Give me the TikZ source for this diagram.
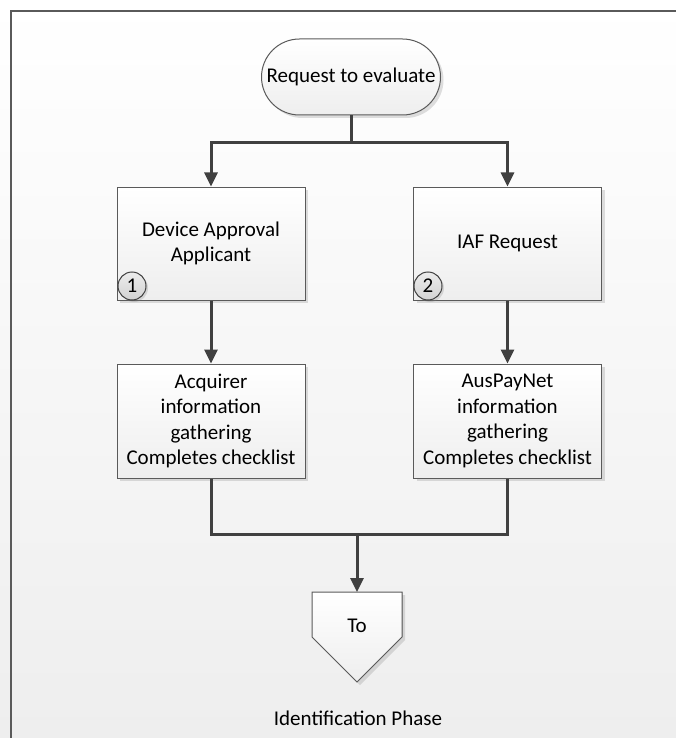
\documentclass[tikz,border=0pt]{standalone}
\usepackage{fontspec}
\setmainfont{Carlito}
\usetikzlibrary{arrows.meta,shadows,shapes.misc}
\definecolor{lineC}{HTML}{404040}
\definecolor{edgeC}{HTML}{5A5A5A}
\definecolor{bgC}{HTML}{EEEEEE}
\tikzset{
  flowbox/.style={draw=edgeC, line width=1pt, top color=white, bottom color=bgC,
    minimum width=188pt, align=center, inner sep=2pt,
    font=\fontsize{21}{25.5}\selectfont,
    drop shadow={shadow xshift=3pt, shadow yshift=-3pt, opacity=0.25, fill=gray}},
  numcirc/.style={circle, draw=lineC, line width=1pt, top color=white!85!gray, bottom color=gray!35,
    minimum size=28pt, inner sep=0pt, font=\fontsize{21}{22}\selectfont,
    drop shadow={shadow xshift=2pt, shadow yshift=-2pt, opacity=0.25, fill=gray}},
  conn/.style={draw=lineC, line width=3pt},
  arr/.style={conn, -{Triangle[length=14pt,width=13pt]}},
  lbl/.style={font=\fontsize{21}{25}\selectfont, inner sep=0pt}
}
\begin{document}
\begin{tikzpicture}[x=1pt,y=-1pt]
\useasboundingbox (0,0) rectangle (676,738);
\shade[top color=white, bottom color=bgC, shading angle=0] (0,0) rectangle (676,738);
\draw[edgeC, line width=1.5pt] (11,738) -- (11,11) -- (676,11);

\node[flowbox, rounded rectangle, minimum width=183pt, minimum height=76pt] (term) at (351,77) {Request to evaluate};

\node[flowbox, minimum height=113pt] (b1) at (211,243.5) {Device Approval\\Applicant};
\node[flowbox, minimum height=113pt] (b2) at (507.5,243.5) {IAF Request};
\node[numcirc] (c1) at (132,286) {1};
\node[numcirc] (c2) at (428,286) {2};

\node[flowbox, minimum height=114pt] (b3) at (211,421) {Acquirer\\information\\gathering\\Completes checklist};
\node[flowbox, minimum height=114pt] (b4) at (507.5,421) {AusPayNet\\information\\gathering\\Completes checklist};

% off-page connector
\coordinate (offtop) at (357,592);
\filldraw[draw=edgeC, line width=1pt, top color=white, bottom color=bgC,
  drop shadow={shadow xshift=3pt, shadow yshift=-3pt, opacity=0.25, fill=gray}]
  (312,592) -- (402,592) -- (402,637) -- (357,682) -- (312,637) -- cycle;
\node[lbl] (to) at (357,626) {To};
\node[lbl] (idp) at (358,718) {Identification Phase};

\coordinate (split) at (351,143);
\coordinate (merge) at (357,534);
\draw[conn] (term.south) -- (split);
\draw[arr] (split) -| (b1.north);
\draw[arr] (split) -| (b2.north);
\draw[arr] (b1.south) -- (b3.north);
\draw[arr] (b2.south) -- (b4.north);
\draw[conn] (b3.south) |- (merge);
\draw[conn] (b4.south) |- (merge);
\draw[arr] (merge) -- (offtop);
\end{tikzpicture}
\end{document}
